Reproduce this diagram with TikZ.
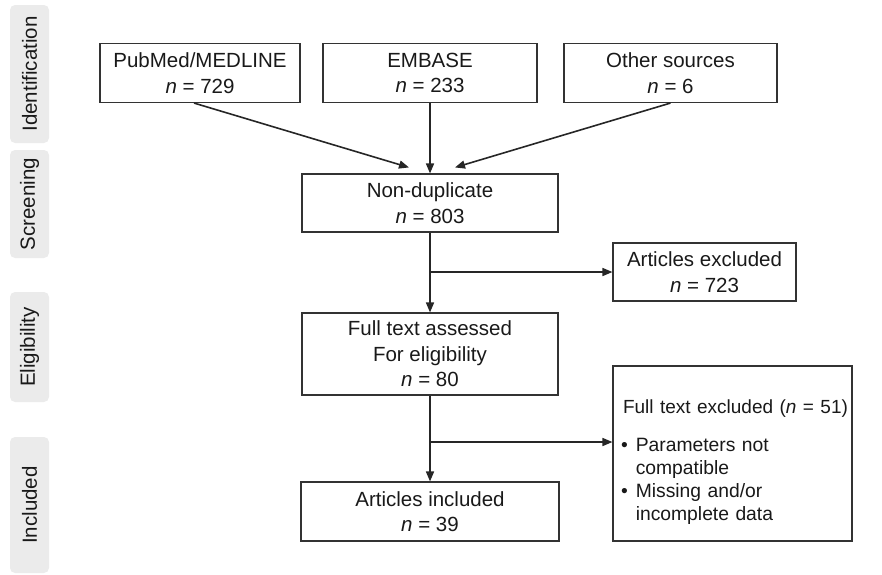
\documentclass[tikz,border=0pt]{standalone}
\usepackage{fontspec}
\setmainfont{Liberation Sans}
\usetikzlibrary{arrows.meta}

\tikzset{
	flowbox/.style={draw=black!80, line width=1.1pt, rectangle, align=center, text=black!90,
		inner sep=0pt, font=\fontsize{20.5}{25.5}\selectfont},
	phase/.style={fill=black!8, draw=none, rounded corners=5pt, rotate=90, minimum height=39pt,
		inner sep=0pt, text=black!90, font=\fontsize{20.5}{24}\selectfont},
	arr/.style={line width=1.6pt, draw=black!85, -{Triangle[length=10pt,width=8pt]}}
}

\begin{document}
\begin{tikzpicture}[x=1pt, y=-1pt]
	\useasboundingbox (0,0) rectangle (882,574);
	% phases
	\node[phase, minimum width=138pt] (ident) at (29.5,74) {Identification};
	\node[phase, minimum width=108pt] (screen) at (29.5,204) {Screening};
	\node[phase, minimum width=110pt] (elig) at (29.5,347) {Eligibility};
	\node[phase, minimum width=136pt] (incl) at (29.5,505) {Included};
	% boxes
	\node[flowbox, minimum width=200pt, minimum height=59pt] (pubmed) at (200,73) {PubMed/MEDLINE\\\textit{n} = 729};
	\node[flowbox, minimum width=214pt, minimum height=59pt] (embase) at (430,73) {EMBASE\\\textit{n} = 233};
	\node[flowbox, minimum width=213pt, minimum height=59pt] (other) at (670.5,73) {Other sources\\\textit{n} = 6};
	\node[flowbox, minimum width=256pt, minimum height=58pt] (nondup) at (430,203) {Non-duplicate\\\textit{n} = 803};
	\node[flowbox, minimum width=183pt, minimum height=58pt] (artexcl) at (704.5,272) {Articles excluded\\\textit{n} = 723};
	\node[flowbox, minimum width=256pt, minimum height=82pt] (fulltext) at (430,354) {Full text assessed\\For eligibility\\\textit{n} = 80};
	\node[flowbox, text width=239pt, minimum height=175pt, align=left, font=\fontsize{19.3}{23}\selectfont] (ftexcl) at (732.5,453.5)
		{\begin{tabular}{@{\hspace{8pt}}l@{\hspace{8pt}}l@{}}
		\multicolumn{2}{@{\hspace{10pt}}l@{}}{\fontsize{19}{23}\selectfont\rule{0pt}{34pt}Full text excluded (\textit{n} = 51)}\\[15pt]
		\textbullet & Parameters not\\
		 & compatible\\
		\textbullet & Missing and/or\\
		 & incomplete data
		\end{tabular}};
	\node[flowbox, minimum width=258pt, minimum height=59pt] (artincl) at (430,511.5) {Articles included\\\textit{n} = 39};
	% connectors
	\coordinate (split1) at (430,272);
	\coordinate (split2) at (430,442);
	\draw[arr] ([xshift=-6pt]pubmed.south) -- ([xshift=-21pt,yshift=6pt]nondup.north);
	\draw[arr] (embase.south) -- (nondup.north);
	\draw[arr] (other.south) -- ([xshift=25pt,yshift=6pt]nondup.north);
	\draw[arr] (nondup.south) -- (fulltext.north);
	\draw[arr] (split1) -- (split1 -| artexcl.west);
	\draw[arr] (fulltext.south) -- (artincl.north);
	\draw[arr] (split2) -- (split2 -| ftexcl.west);
\end{tikzpicture}
\end{document}
